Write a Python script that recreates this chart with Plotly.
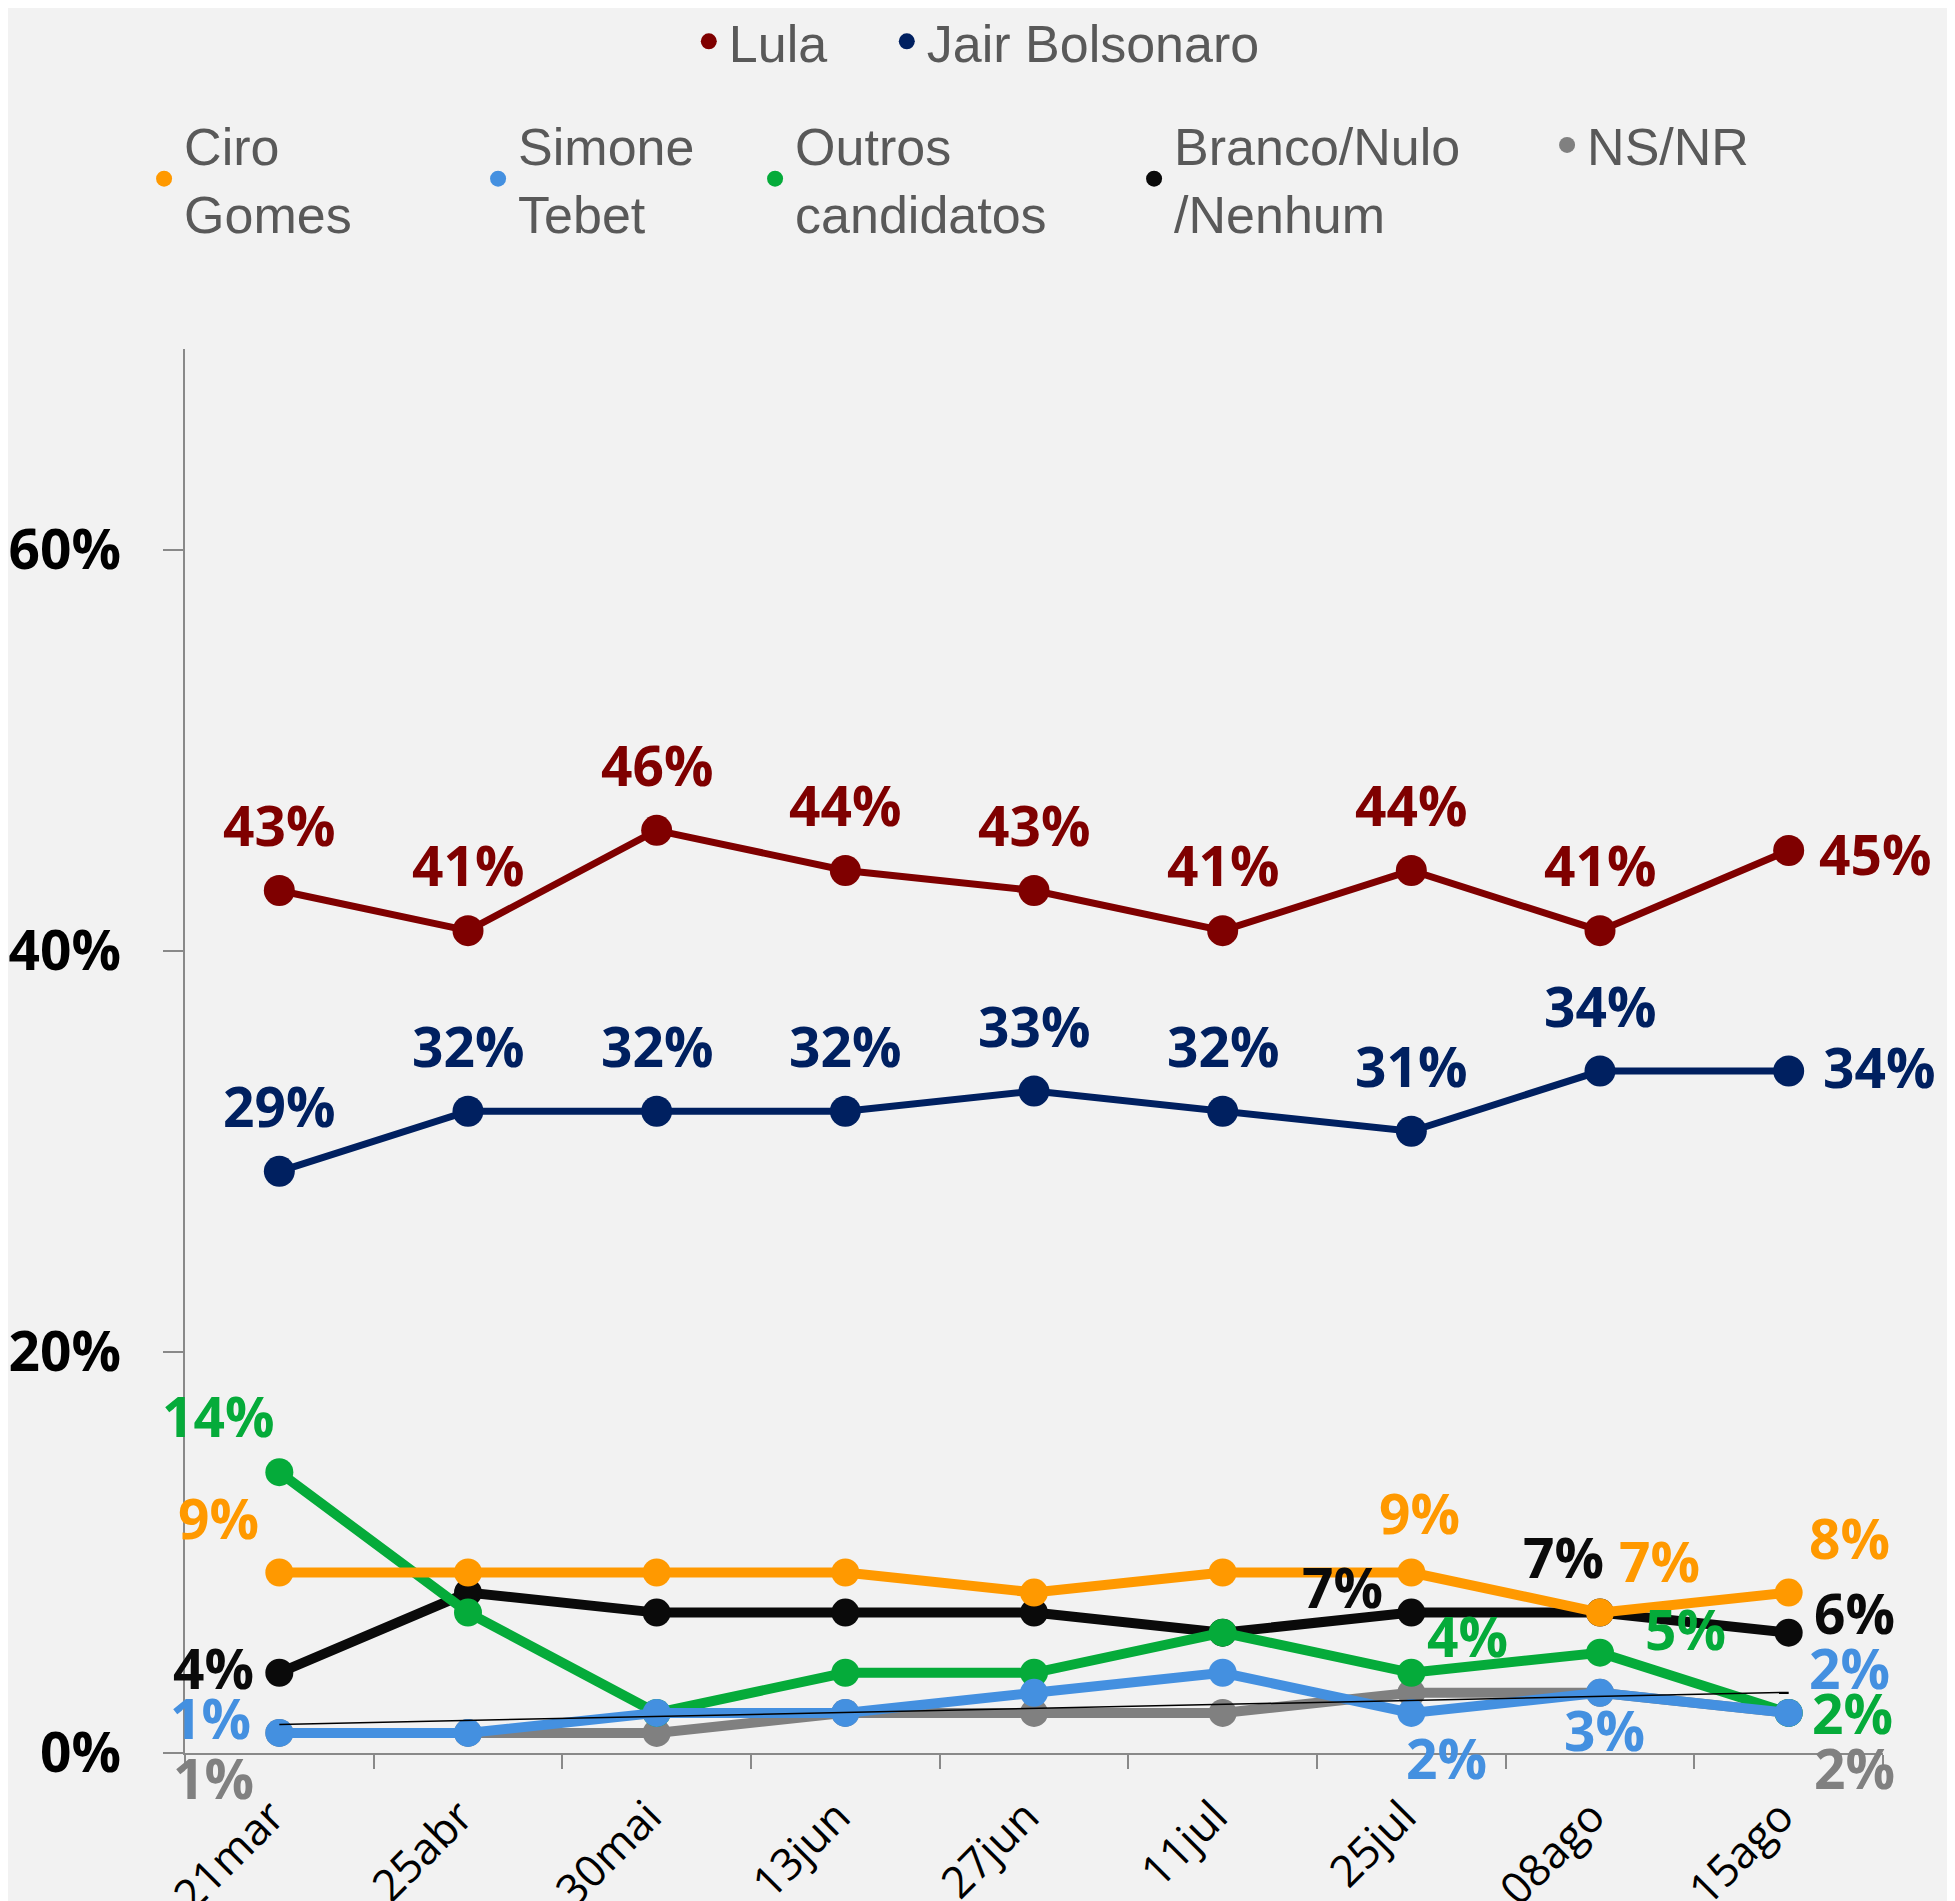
import numpy as np
import plotly.graph_objects as go

# dados da pesquisa (intenção de voto, %)
datas = ["21mar", "25abr", "30mai", "13jun", "27jun", "11jul", "25jul", "08ago", "15ago"]

lula = [43, 41, 46, 44, 43, 41, 44, 41, 45]
bolsonaro = [29, 32, 32, 32, 33, 32, 31, 34, 34]
ciro = [9, 9, 9, 9, 8, 9, 9, 7, 8]
simone = [1, 1, 2, 2, 3, 4, 2, 3, 2]
outros = [14, 7, 2, 4, 4, 6, 4, 5, 2]
branco = [4, 8, 7, 7, 7, 6, 7, 7, 6]
nsnr = [1, 1, 1, 2, 2, 2, 3, 3, 2]

y_ticks = [0, 20, 40, 60]

# nome, valores, cor, legenda, largura da linha, tamanho do marcador, rank, largura na legenda
series = [
    ("Lula", lula, "#7F0000", "legend", 7, 31, 1, 153),
    ("Jair Bolsonaro", bolsonaro, "#002060", "legend", 7, 31, 2, None),
    ("NS/NR", nsnr, "#808080", "legend2", 10, 28, 7, None),
    ("Branco/Nulo<br>/Nenhum", branco, "#0A0A0A", "legend2", 10, 28, 6, 368),
    ("Outros<br>candidatos", outros, "#05AB3A", "legend2", 10, 28, 5, 334),
    ("Ciro<br>Gomes", ciro, "#FF9900", "legend2", 10, 28, 3, 289),
    ("Simone<br>Tebet", simone, "#4490E0", "legend2", 10, 28, 4, 232),
]

# posição dos rótulos: (série, índice, deslocamento x, deslocamento y) em px
rotulos = []
for i in range(len(datas) - 1):
    rotulos.append(("Lula", i, 0, 66))
    rotulos.append(("Jair Bolsonaro", i, 0, 66))
rotulos += [
    ("Lula", 8, 86, -3),
    ("Jair Bolsonaro", 8, 90, 5),
    ("Ciro<br>Gomes", 0, -61, 55),
    ("Ciro<br>Gomes", 6, 8, 60),
    ("Ciro<br>Gomes", 7, 59, 52),
    ("Ciro<br>Gomes", 8, 61, 55),
    ("Branco/Nulo<br>/Nenhum", 0, -66, 5),
    ("Branco/Nulo<br>/Nenhum", 6, -69, 26),
    ("Branco/Nulo<br>/Nenhum", 7, -37, 56),
    ("Branco/Nulo<br>/Nenhum", 8, 66, 20),
    ("Outros<br>candidatos", 0, -61, 57),
    ("Outros<br>candidatos", 6, 56, 37),
    ("Outros<br>candidatos", 7, 85, 24),
    ("Outros<br>candidatos", 8, 64, 0),
    ("Simone<br>Tebet", 0, -69, 15),
    ("Simone<br>Tebet", 6, 35, -45),
    ("Simone<br>Tebet", 7, 4, -37),
    ("Simone<br>Tebet", 8, 61, 45),
    ("NS/NR", 0, -66, -45),
    ("NS/NR", 8, 66, -55),
]

fig = go.Figure()

for nome, vals, cor, leg, lw, ms, rank, lwid in series:
    fig.add_trace(go.Scatter(
        x=datas, y=vals, mode="lines",
        line=dict(color=cor, width=lw),
        showlegend=False, hoverinfo="skip"
    ))
    fig.add_trace(go.Scatter(
        x=datas, y=vals, mode="markers",
        marker=dict(color=cor, size=ms),
        name=nome, legend=leg, legendrank=rank, legendwidth=lwid
    ))

# linha de tendência (Simone Tebet)
idx = np.arange(len(datas))
coef = np.polyfit(idx, simone, 1)
fig.add_trace(go.Scatter(
    x=datas, y=np.polyval(coef, idx), mode="lines",
    line=dict(color="black", width=1.5),
    showlegend=False, hoverinfo="skip"
))

cores = {s[0]: s[2] for s in series}
valores = {s[0]: s[1] for s in series}
for nome, i, dx, dy in rotulos:
    fig.add_annotation(
        x=i, y=valores[nome][i], xref="x", yref="y",
        text=f"{valores[nome][i]}%", showarrow=False,
        xanchor="center", yanchor="middle", xshift=dx, yshift=dy,
        font=dict(family="Open Sans", size=55, weight="bold", color=cores[nome])
    )

fig.update_layout(
    width=1947, height=1893,
    paper_bgcolor="#F2F2F2", plot_bgcolor="#F2F2F2",
    margin=dict(l=177, r=72, t=341, b=148, autoexpand=False),
    legend=dict(
        orientation="h", x=0.2967, xanchor="left", y=1.219, yanchor="middle",
        font=dict(family="Liberation Sans", size=52, color="#595959"),
        bgcolor="rgba(0,0,0,0)"
    ),
    legend2=dict(
        orientation="h", x=-0.0241, xanchor="left", y=1.121, yanchor="middle",
        font=dict(family="Liberation Sans", size=52, color="#595959"),
        bgcolor="rgba(0,0,0,0)"
    ),
)

fig.update_xaxes(
    type="category", range=[-0.5, 8.5],
    showline=True, linecolor="#898989", linewidth=2,
    ticks="outside", tickson="boundaries", ticklen=14, tickcolor="#898989", tickwidth=2,
    tickangle=-45, ticklabelstandoff=18, ticklabelshift=-8,
    showgrid=False, zeroline=False, automargin=False,
    tickfont=dict(family="Open Sans", size=44, color="black")
)
fig.update_yaxes(
    range=[0, 70], tickvals=y_ticks, ticktext=[f"{v}%" for v in y_ticks],
    showline=True, linecolor="#898989", linewidth=2,
    ticks="outside", ticklen=20, tickcolor="#898989", tickwidth=2,
    ticklabelstandoff=31,
    showgrid=False, zeroline=False, automargin=False,
    tickfont=dict(family="Open Sans", size=55, weight="bold", color="black")
)

fig.write_html("out.html")
